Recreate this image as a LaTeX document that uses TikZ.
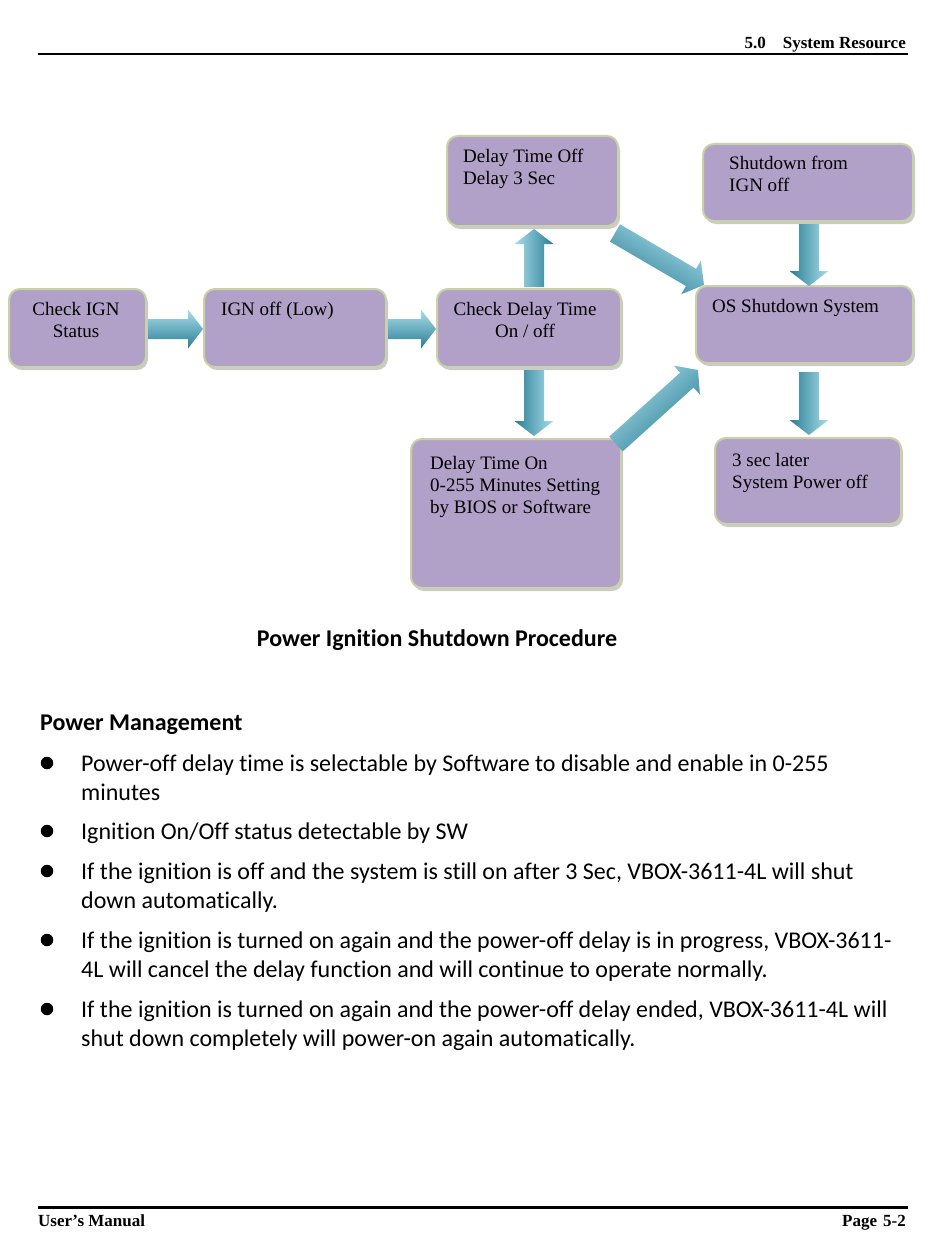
\documentclass[tikz,border=0pt]{standalone}
\usepackage{fontspec}
\setmainfont{Liberation Serif}
\newfontfamily\calfont[Ligatures=NoCommon]{Carlito}
\usetikzlibrary{shadows,calc}
\definecolor{boxfill}{HTML}{B1A0C8}
\definecolor{boxline}{HTML}{C9D1A6}
\definecolor{aqL}{HTML}{A9DEEB}
\definecolor{aqM}{HTML}{4BACC6}
\definecolor{aqD}{HTML}{2A7D94}
\tikzset{
  box/.style={draw=boxline, line width=2pt, fill=boxfill, rounded corners=11pt,
    anchor=north west, inner sep=0pt,
    drop shadow={shadow xshift=2pt, shadow yshift=-3pt, fill=black!45, opacity=.45}},
  btxt/.style={font=\fontsize{19}{22}\selectfont, inner sep=0pt, align=left},
  ctxt/.style={font=\fontsize{19}{22}\selectfont, inner sep=0pt, align=center},
  arrshade/.style={top color=aqL, middle color=aqM, bottom color=aqD},
  arrshadeR/.style={top color=aqD, middle color=aqM, bottom color=aqL},
  body/.style={font=\calfont\fontsize{24}{29}\selectfont, inner sep=0pt, anchor=base west},
  bodyb/.style={font=\calfont\bfseries\fontsize{24}{29}\selectfont, inner sep=0pt},
  hdr/.style={font=\bfseries\fontsize{17}{20}\selectfont, inner sep=0pt},
  bul/.style={circle, fill=black, inner sep=0pt, minimum size=12.5pt}
}
\newcommand\blockarr[3][arrshade]{%
  \path (#2); \pgfgetlastxy{\bax}{\bay}%
  \path (#3); \pgfgetlastxy{\bbx}{\bby}%
  \pgfmathsetmacro\bang{atan2((\bby)-(\bay),(\bbx)-(\bax))}%
  \pgfmathsetmacro\blen{veclen((\bbx)-(\bax),(\bby)-(\bay))}%
  \begin{scope}[shift={(\bax,\bay)}, rotate=\bang, x=1pt, y=1pt]
    \shade[#1, shading angle=\bang] (0,-10) -- ({\blen-15},-10) -- ({\blen-15},-19.5) -- (\blen,0)
      -- ({\blen-15},19.5) -- ({\blen-15},10) -- (0,10) -- cycle;
  \end{scope}}
\begin{document}
\begin{tikzpicture}[x=1pt, y=-1pt]
\useasboundingbox[fill=white] (0,0) rectangle (950,1260);
% header / footer
\draw[line width=2pt] (38,54) -- (908,54);
\node[hdr, anchor=base east] (hd1) at (906,49) {System Resource};
\node[hdr, anchor=base east] (hd0) at (766,49) {5.0};
\draw[line width=3pt] (38,1207) -- (908,1207);
\node[hdr, anchor=base west] (ft1) at (38,1226) {User’s Manual};
\node[hdr, anchor=base east] (ft2) at (906,1226) {Page\hspace{6pt}5-2};
% boxes
\node[box, minimum width=137pt, minimum height=78pt] (b1) at (8,288) {};
\node[box, minimum width=182pt, minimum height=78pt] (b2) at (203,288) {};
\node[box, minimum width=184pt, minimum height=78pt] (b3) at (436,288) {};
\node[box, minimum width=171pt, minimum height=90pt] (b4) at (446,135) {};
\node[box, minimum width=210pt, minimum height=77pt] (b5) at (702,143) {};
\node[box, minimum width=217pt, minimum height=77pt] (b6) at (695,285) {};
\node[box, minimum width=186pt, minimum height=86pt] (b7) at (714,437) {};
\node[box, minimum width=210pt, minimum height=149pt] (b8) at (410,438) {};
% box texts (base anchor = baseline of last line)
\node[ctxt, anchor=base] (t1) at (76,337) {Check IGN\\Status};
\node[btxt, anchor=base west] (t2) at (221,315) {IGN off (Low)};
\node[ctxt, anchor=base] (t3) at (525,337) {Check Delay Time\\On / off};
\node[btxt, anchor=base west] (t4) at (463,185) {Delay Time Off\\Delay 3 Sec};
\node[btxt, anchor=base west] (t5) at (729,192) {Shutdown from\\IGN off};
\node[btxt, anchor=base west] (t6) at (712,312) {OS Shutdown System};
\node[btxt, anchor=base west] (t7) at (732,488) {3 sec later\\System Power off};
\node[btxt, anchor=base west] (t8) at (430,513) {Delay Time On\\0-255 Minutes Setting\\by BIOS or Software};
% arrow end points
\coordinate (a1s) at ($(b1.east)+(1,1)$);
\coordinate (a1e) at ($(b2.west)+(0,1)$);
\coordinate (a2s) at ($(b2.east)+(1,1)$);
\coordinate (a2e) at ($(b3.west)+(0,1)$);
\coordinate (a3s) at ($(b3.north)+(5,-1)$);
\coordinate (a3e) at ($(b4.south)+(1.5,2)$);
\coordinate (a4s) at ($(b3.south)+(5,2)$);
\coordinate (a4e) at ($(b8.north)+(18,-2)$);
\coordinate (a5s) at ($(b4.south east)+(-4,6)$);
\coordinate (a5e) at ($(b6.north west)+(9,0)$);
\coordinate (a6s) at ($(b8.north east)+(-6,6)$);
\coordinate (a6e) at ($(b6.south west)+(3,6)$);
\coordinate (a7s) at ($(b5.south)+(1,2)$);
\coordinate (a7e) at ($(b5.south)+(1,64)$);
\coordinate (a8s) at ($(b6.south)+(4.5,8)$);
\coordinate (a8e) at ($(b7.north)+(1,-2)$);
\blockarr{a1s}{a1e}
\blockarr{a2s}{a2e}
\blockarr{a3s}{a3e}
\blockarr{a4s}{a4e}
\blockarr{a5s}{a5e}
\blockarr{a6s}{a6e}
\blockarr{a7s}{a7e}
\blockarr{a8s}{a8e}
% caption
\node[bodyb, anchor=base] (cap) at (437,646) {Power Ignition Shutdown Procedure};
% body text
\node[bodyb, anchor=base west] (pm) at (40,730) {Power Management};
\node[bul] (u1) at (47,763) {};
\node[body] (l1) at (81,771) {Power-off delay time is selectable by Software to disable and enable in 0-255};
\node[body] (l1b) at (81,800) {minutes};
\node[bul] (u2) at (47,831) {};
\node[body] (l2) at (81,839) {Ignition On/Off status detectable by SW};
\node[bul] (u3) at (47,871) {};
\node[body] (l3) at (81,879) {If the ignition is off and the system is still on after 3 Sec, VBOX-3611-4L will shut};
\node[body] (l3b) at (81,908) {down automatically.};
\node[bul] (u4) at (47,940) {};
\node[body] (l4) at (81,948) {If the ignition is turned on again and the power-off delay is in progress, VBOX-3611-};
\node[body] (l4b) at (81,977) {4L will cancel the delay function and will continue to operate normally.};
\node[bul] (u5) at (47,1009) {};
\node[body] (l5) at (81,1017) {If the ignition is turned on again and the power-off delay ended, VBOX-3611-4L will};
\node[body] (l5b) at (81,1046) {shut down completely will power-on again automatically.};
\end{tikzpicture}
\end{document}
